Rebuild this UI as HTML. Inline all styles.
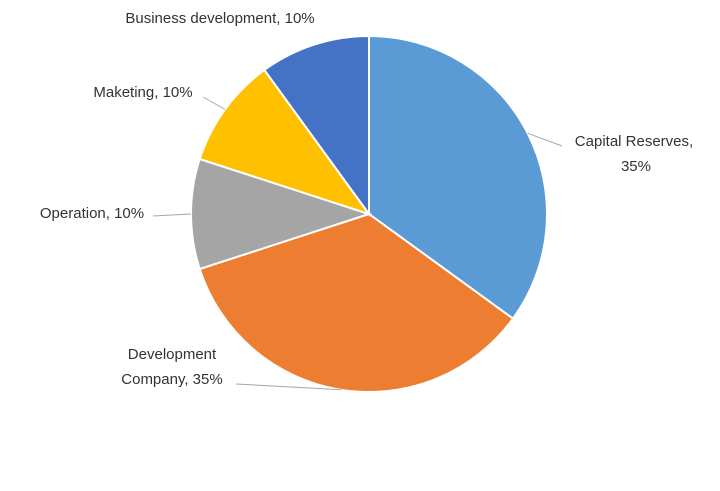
<!DOCTYPE html>
<html><head><meta charset="utf-8"><style>
body{margin:0;background:#fff;width:720px;height:486px;overflow:hidden}
svg text{font-family:"Liberation Sans",sans-serif;font-size:15px;fill:#333}
</style></head><body>
<svg id="chart" width="720" height="486"></svg>
<script>
const categories=["Capital Reserves","Development Company","Operation","Maketing","Business development"];
const values=[35,35,10,10,10];
const colors=["#5B9BD5","#ED7D31","#A5A5A5","#FFC000","#4472C4"];
const labelLines=[["Capital Reserves,","35%"],["Development","Company, 35%"],["Operation, 10%"],["Maketing, 10%"],["Business development, 10%"]];
const labelPos=[[634,146,"middle"],[172,359,"middle"],[92,218,"middle"],[143,97,"middle"],[220,23,"middle"]];
const leaderEnd=[[562,146],[236,384],[153,216],[203,97],null];
const ns="http://www.w3.org/2000/svg";
const svg=document.getElementById("chart");
const cx=369,cy=214,r=178;
const total=values.reduce((a,b)=>a+b,0);
let a0=-Math.PI/2;
values.forEach((v,i)=>{
  const a1=a0+v/total*2*Math.PI;
  const x0=cx+r*Math.cos(a0),y0=cy+r*Math.sin(a0),x1=cx+r*Math.cos(a1),y1=cy+r*Math.sin(a1);
  const p=document.createElementNS(ns,"path");
  p.setAttribute("d",`M${cx},${cy}L${x0},${y0}A${r},${r} 0 ${a1-a0>Math.PI?1:0} 1 ${x1},${y1}Z`);
  p.setAttribute("fill",colors[i]);p.setAttribute("stroke","#fff");p.setAttribute("stroke-width","2");
  
  
  svg.appendChild(p);
  const am=(a0+a1)/2;
  const ex=cx+r*Math.cos(am),ey=cy+r*Math.sin(am);
  if(leaderEnd[i]){
    const l=document.createElementNS(ns,"polyline");
    const le=leaderEnd[i];
    l.setAttribute("points",`${ex},${ey} ${le[0]},${le[1]}`);
    l.setAttribute("fill","none");l.setAttribute("stroke","#A6A6A6");l.setAttribute("stroke-width","1");
    
    
    svg.appendChild(l);
  }
  const lp=labelPos[i];
  labelLines[i].forEach((t,k)=>{
    const tx=document.createElementNS(ns,"text");
    tx.setAttribute("x",i==0&&k==1?651:lp[0]);tx.setAttribute("y",lp[1]+k*25);
    tx.setAttribute("text-anchor",i==0&&k==1?"end":lp[2]);
    tx.textContent=t;
    
    
    svg.appendChild(tx);
  });
  a0=a1;
});
</script>
</body></html>
